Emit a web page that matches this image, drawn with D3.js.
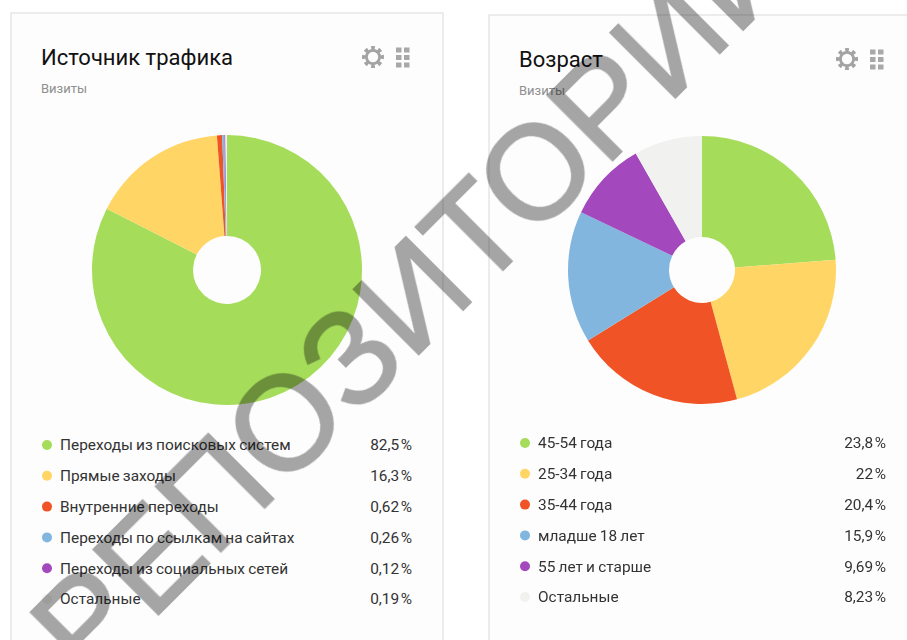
<!DOCTYPE html>
<html>
<head>
<meta charset="utf-8">
<script src="https://cdn.jsdelivr.net/npm/d3@7"></script>
<style>
html, body { margin: 0; padding: 0; background: #fff; overflow: hidden; }
text { font-family: Roboto, "Noto Sans", sans-serif; }
svg { filter: blur(0.5px); }
</style>
</head>
<body>
<div id="chart"></div>
<script>
var svgWidth = 907;
var svgHeight = 640;

// Left card
var trafficLabels = ["Переходы из поисковых систем", "Прямые заходы", "Внутренние переходы", "Переходы по ссылкам на сайтах", "Переходы из социальных сетей", "Остальные"];
var trafficValues = [82.5, 16.3, 0.62, 0.26, 0.12, 0.19];

// Right card
var ageLabels = ["45-54 года", "25-34 года", "35-44 года", "младше 18 лет", "55 лет и старше", "Остальные"];
var ageValues = [23.8, 22, 20.4, 15.9, 9.69, 8.23];

var sliceColors = ["#a5dc5a", "#ffd666", "#f05426", "#82b6de", "#a349bd", "#f1f2ef"];
var watermark = "РЕПОЗИТОРИЙ";

var svg = d3.select("#chart")
    .append("svg")
    .attr("width", svgWidth)
    .attr("height", svgHeight)
    .style("display", "block");

var color = d3.scaleOrdinal().domain(d3.range(6)).range(sliceColors);

function drawGear(g, cx, cy) {
    var gear = g.append("g").attr("transform", `translate(${cx},${cy})`);
    var teeth = d3.arc().innerRadius(6).outerRadius(11);
    d3.range(8).forEach(function(i) {
        var a = i * Math.PI / 4;
        gear.append("path")
            .attr("d", teeth({startAngle: a - 0.2, endAngle: a + 0.2}))
            .attr("fill", "#a3a3a3");
    });
    gear.append("circle")
        .attr("r", 6.6)
        .attr("fill", "none")
        .attr("stroke", "#a3a3a3")
        .attr("stroke-width", 2.8);
}

function drawGrid(g, x0, y0) {
    d3.range(6).forEach(function(i) {
        g.append("rect")
            .attr("x", x0 + (i % 2) * 8)
            .attr("y", y0 + Math.floor(i / 2) * 7.5)
            .attr("width", 5.5)
            .attr("height", 5)
            .attr("fill", "#a8a8a8");
    });
}

function drawCard(o) {
    var g = svg.append("g");

    g.append("rect")
        .attr("x", o.x)
        .attr("y", o.y)
        .attr("width", o.w)
        .attr("height", svgHeight + 20)
        .attr("fill", "#fdfdfd")
        .attr("stroke", "#e6e6e6")
        .attr("stroke-width", 1.5);

    g.append("text")
        .attr("x", o.textX)
        .attr("y", o.titleY)
        .attr("font-size", 22)
        .attr("fill", "#111")
        .text(o.title);

    g.append("text")
        .attr("x", o.textX)
        .attr("y", o.titleY + 28)
        .attr("font-size", 13)
        .attr("fill", "#8f8f8f")
        .text("Визиты");

    drawGear(g, o.gearX, o.titleY - 8);
    drawGrid(g, o.gearX + 23, o.titleY - 17.5);

    // pie
    var pie = d3.pie().sort(null);
    var arc = d3.arc().innerRadius(o.inner).outerRadius(o.outer);
    g.append("g")
        .attr("transform", `translate(${o.cx},${o.cy})`)
        .selectAll("path")
        .data(pie(o.values))
        .enter()
        .append("path")
        .attr("d", arc)
        .attr("fill", (d, i) => color(i));

    // legend
    var rowY = d3.scalePoint().domain(d3.range(6)).range(o.rows);
    var rows = g.selectAll(".row")
        .data(o.labels)
        .enter()
        .append("g")
        .attr("transform", (d, i) => `translate(0,${rowY(i)})`);

    rows.append("circle")
        .attr("cx", o.dotX)
        .attr("r", 5)
        .attr("fill", (d, i) => color(i));

    rows.append("text")
        .attr("x", o.dotX + 13)
        .attr("dy", "0.35em")
        .attr("font-size", 15.4)
        .attr("word-spacing", -0.6)
        .attr("fill", "#333")
        .text(d => d);

    rows.append("text")
        .attr("x", o.valueX)
        .attr("dy", "0.35em")
        .attr("text-anchor", "end")
        .attr("font-size", 15.4)
        .attr("fill", "#333")
        .text((d, i) => String(o.values[i]).replace(".", ",") + "\u200a%");
}

drawCard({
    x: 11, y: 13, w: 432, textX: 41, titleY: 65, title: "Источник трафика",
    gearX: 373, cx: 227, cy: 270, outer: 135, inner: 34,
    labels: trafficLabels, values: trafficValues,
    dotX: 47, rows: [445, 599], valueX: 412
});

drawCard({
    x: 489, y: 15, w: 440, textX: 519, titleY: 67, title: "Возраст",
    gearX: 847, cx: 702, cy: 270, outer: 134, inner: 33,
    labels: ageLabels, values: ageValues,
    dotX: 525, rows: [443, 597], valueX: 886
});

svg.append("text")
    .attr("transform", "translate(413,295) rotate(-45)")
    .attr("text-anchor", "middle")
    .attr("dy", "0.345em")
    .attr("font-size", 133)
    .style("font-family", "'Liberation Sans'")
    .attr("fill", "#a6a6a6")
    .attr("stroke", "#a6a6a6")
    .attr("stroke-width", 2)
    .style("mix-blend-mode", "multiply")
    .text(watermark);
</script>
</body>
</html>
